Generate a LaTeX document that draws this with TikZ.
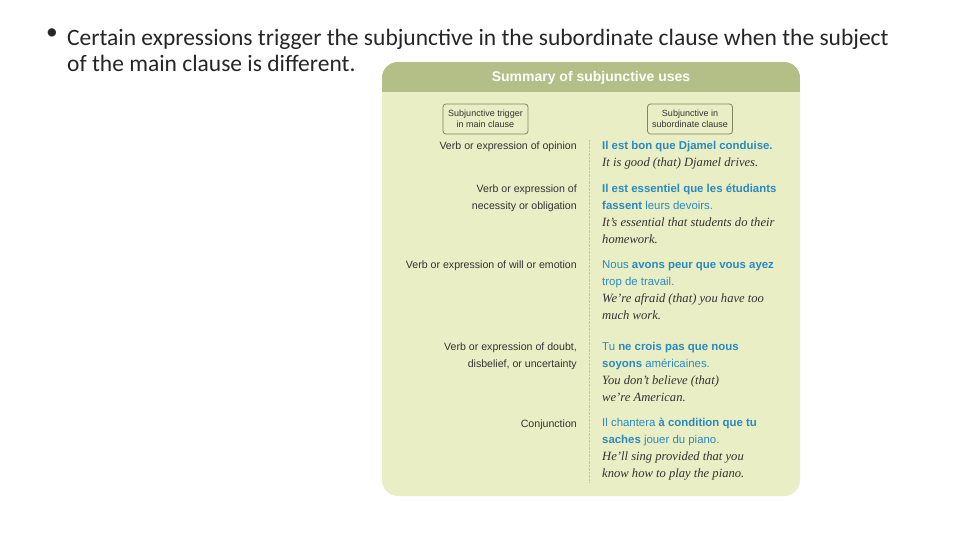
\documentclass[tikz,border=0pt]{standalone}
\usepackage{fontspec}
\setmainfont{Carlito}
\newfontfamily\lab{Liberation Sans}
\newfontfamily\ser{Liberation Serif}
\definecolor{hdr}{HTML}{B3BF86}
\definecolor{body}{HTML}{E9EEC4}
\definecolor{bl}{HTML}{2A8AC0}
\definecolor{tx}{HTML}{333333}
\begin{document}
\begin{tikzpicture}[x=1pt,y=-1pt,
  lbl/.style={anchor=east,font=\lab\fontsize{10.6}{17}\selectfont,text=tx,align=right,inner sep=0},
  ex/.style={anchor=north west,font=\lab\fontsize{11.4}{17}\selectfont,text=bl,align=left,inner sep=0},
  hbox/.style={draw=hdr!70!black,fill=body,rounded corners=3,line width=0.8,minimum width=85,minimum height=30,align=center,font=\lab\fontsize{9}{11}\selectfont,text=tx,inner sep=1},
  btext/.style={anchor=north west,font=\fontsize{23.5}{26}\selectfont,align=left,inner sep=0,text=black!85}]
\useasboundingbox (0,0) rectangle (960,540);
\fill[body,rounded corners=16] (382,62) rectangle (800,496);
\begin{scope}
\clip[rounded corners=16] (382,62) rectangle (800,496);
\fill[hdr] (382,62) rectangle (800,92);
\end{scope}
\node[font=\lab\bfseries\fontsize{14}{16}\selectfont,text=white] (title) at (591,78) {Summary of subjunctive uses};
\node[hbox] (b1) at (485.5,119) {Subjunctive trigger\\in main clause};
\node[hbox] (b2) at (690,119) {Subjunctive in\\subordinate clause};
\coordinate (d1) at (589,140); \coordinate (d2) at (589,482);
\draw[densely dotted,gray!50] (d1) -- (d2);
\def\it#1{{\ser\itshape\color{tx}\fontsize{12.6}{17}\selectfont #1}}
\node[lbl] (l1) at (577,147) {Verb or expression of opinion};
\node[lbl] (l2) at (577,198) {Verb or expression of\\necessity or obligation};
\node[lbl] (l3) at (577,266) {Verb or expression of will or emotion};
\node[lbl] (l4) at (577,356) {Verb or expression of doubt,\\disbelief, or uncertainty};
\node[lbl] (l5) at (577,425) {Conjunction};
\node[ex] (e1) at (602,141) {\textbf{Il est bon que Djamel conduise.}\\\it{It is good (that) Djamel drives.}};
\node[ex] (e2) at (602,184) {\textbf{Il est essentiel que les étudiants}\\\textbf{fassent} leurs devoirs.\\\it{It’s essential that students do their}\\\it{homework.}};
\node[ex] (e3) at (602,260) {Nous \textbf{avons peur que vous ayez}\\trop de travail.\\\it{We’re afraid (that) you have too}\\\it{much work.}};
\node[ex] (e4) at (602,342) {Tu \textbf{ne crois pas que nous}\\\textbf{soyons} américaines.\\\it{You don’t believe (that)}\\\it{we’re American.}};
\node[ex] (e5) at (602,418) {Il chantera \textbf{à condition que tu}\\\textbf{saches} jouer du piano.\\\it{He’ll sing provided that you}\\\it{know how to play the piano.}};
\node[btext] (bul) at (46,29) {•};
\node[btext] (btx) at (67,29) {Certain expressions trigger the subjunctive in the subordinate clause when the subject\\of the main clause is different.};
\end{tikzpicture}
\end{document}
